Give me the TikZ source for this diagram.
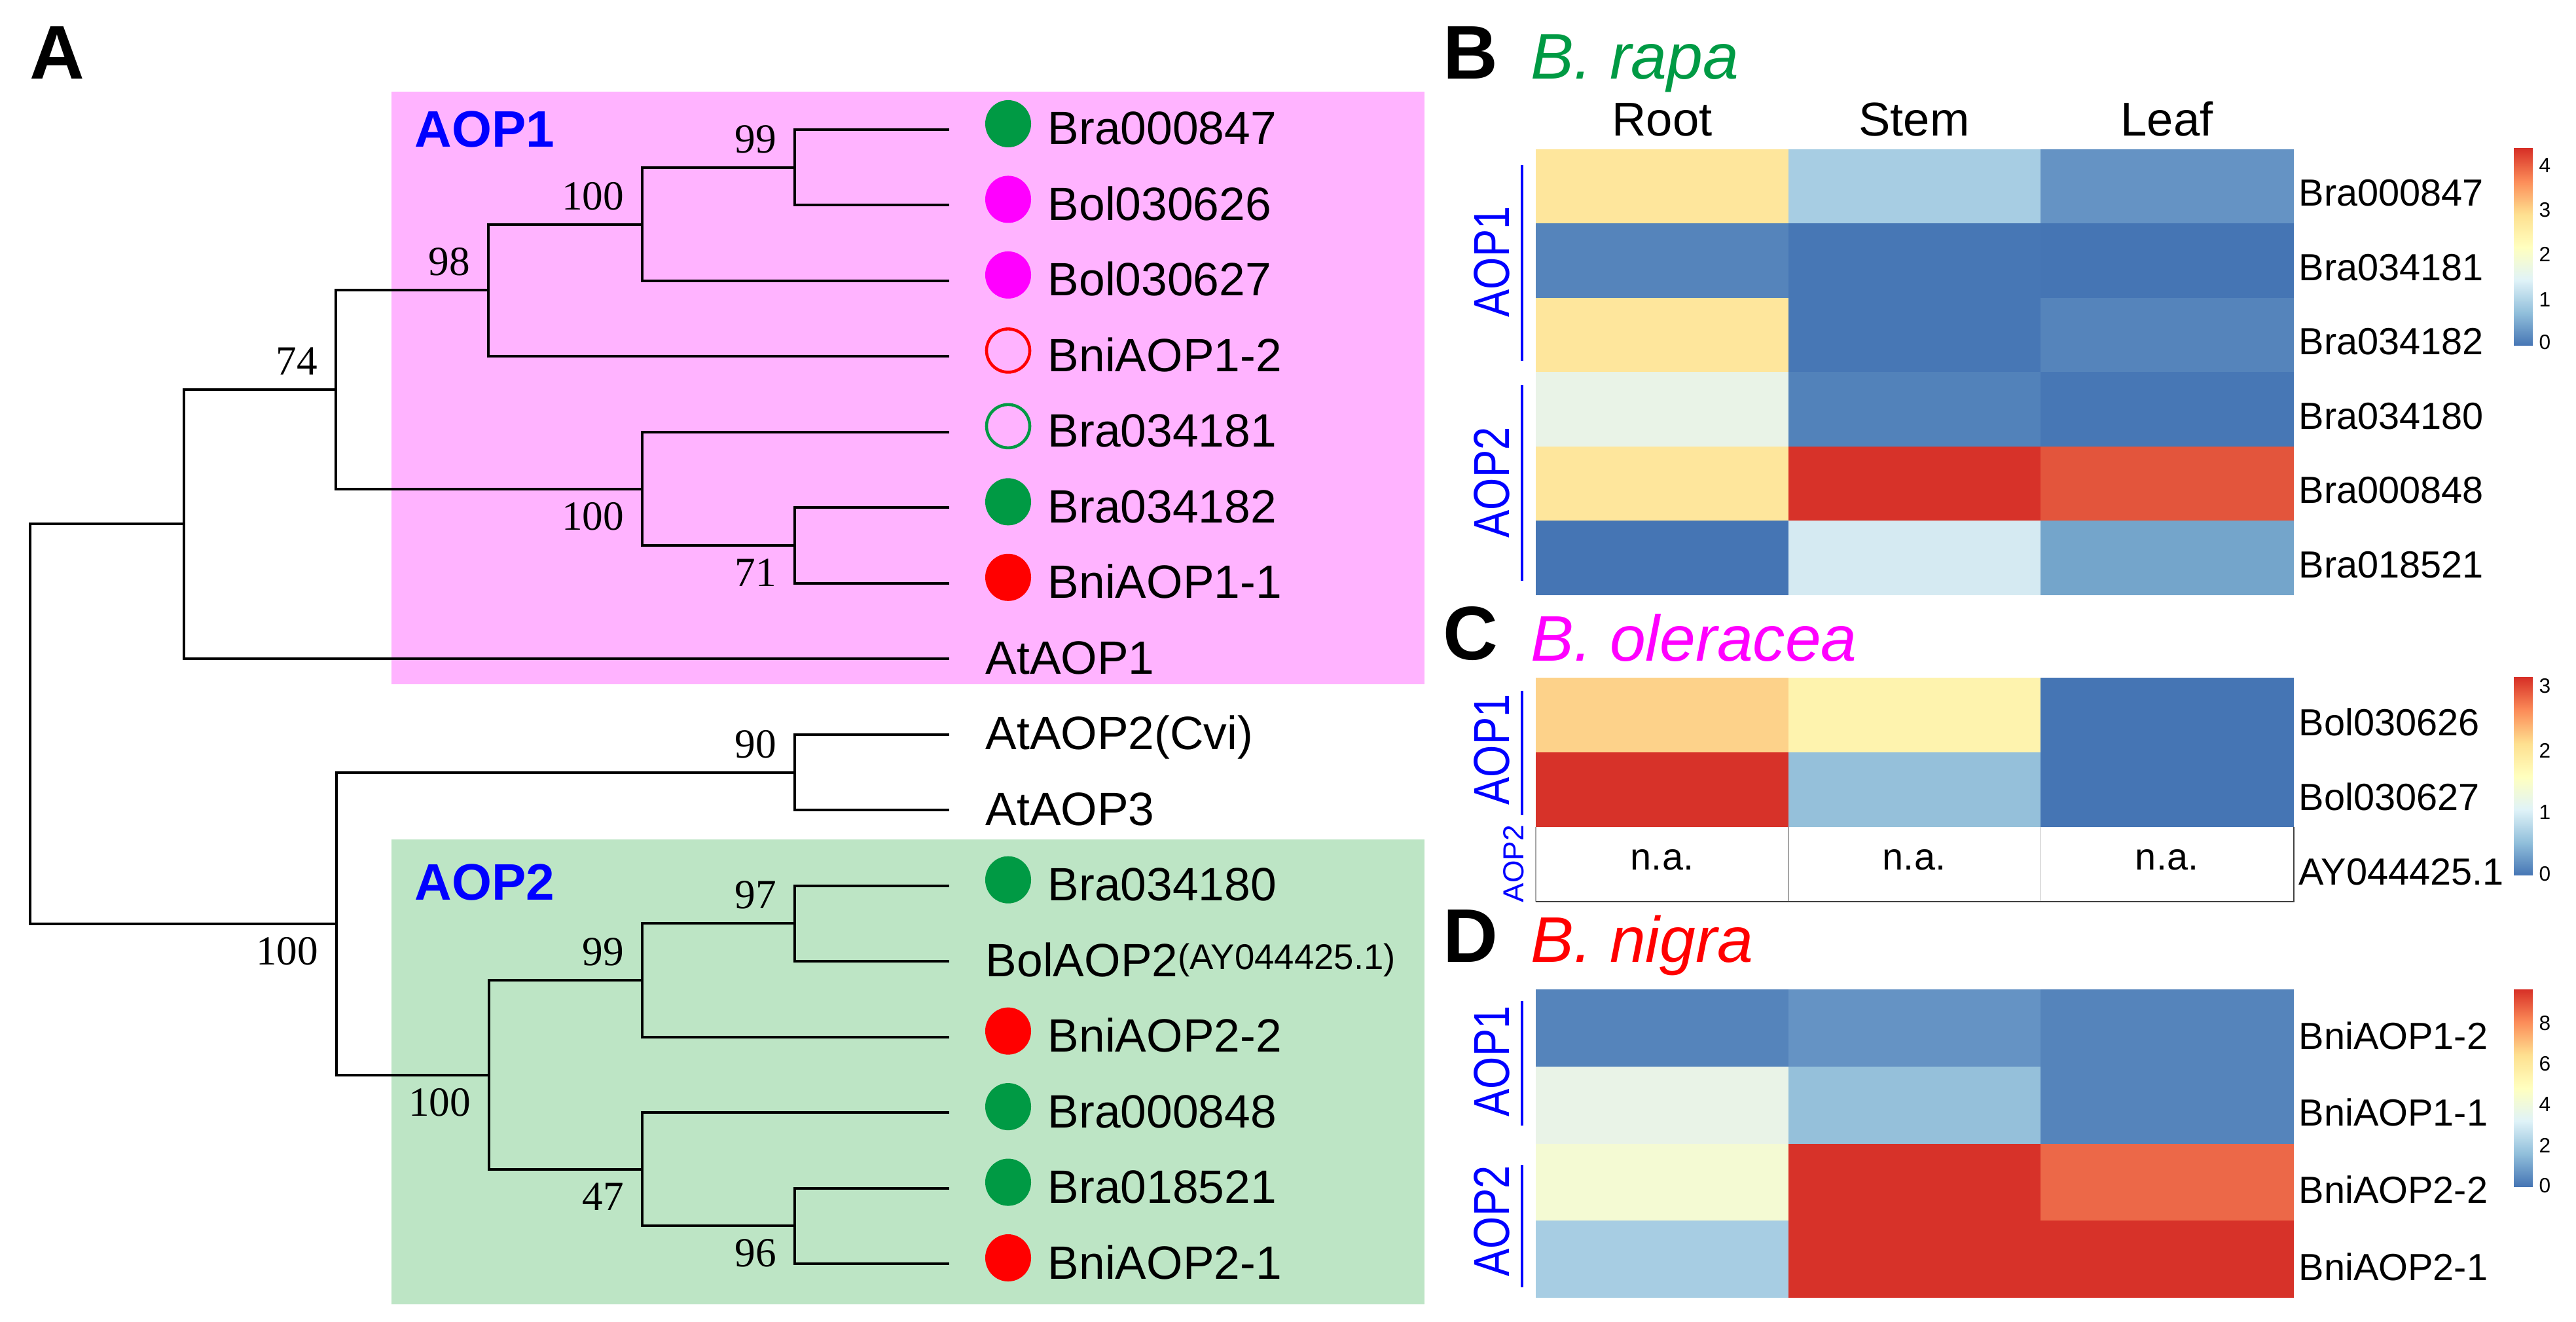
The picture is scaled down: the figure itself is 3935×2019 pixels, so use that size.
\documentclass[tikz,border=0pt]{standalone}
\usepackage{graphicx}
\usepackage{fontspec}
\setmainfont{Liberation Sans}
\newfontfamily\bootfont{Liberation Serif}
\usetikzlibrary{shapes.geometric}

% clade boxes and markers
\definecolor{aoppink}{HTML}{FFB3FF}
\definecolor{aopgreen}{HTML}{BDE5C5}
\definecolor{bragreen}{HTML}{009A44}
\definecolor{bolmag}{HTML}{FF00FF}
\definecolor{bnired}{HTML}{FF0000}
% heatmap cells
\definecolor{hyel}{HTML}{FEE69C}
\definecolor{hlbl}{HTML}{A7CDE3}
\definecolor{hmbl}{HTML}{6593C4}
\definecolor{hbla}{HTML}{5584BB}
\definecolor{hblb}{HTML}{4777B5}
\definecolor{hblc}{HTML}{4575B4}
\definecolor{hbld}{HTML}{5282BA}
\definecolor{hpale}{HTML}{E9F3E7}
\definecolor{hred}{HTML}{D73229}
\definecolor{hora}{HTML}{E3553C}
\definecolor{hvlb}{HTML}{D5EAF2}
\definecolor{hsky}{HTML}{74A5CB}
\definecolor{hlor}{HTML}{FDD28A}
\definecolor{hlye}{HTML}{FEF3AE}
\definecolor{hstb}{HTML}{95C0DA}
\definecolor{hpye}{HTML}{F4FAD3}
\definecolor{horb}{HTML}{EC6848}
% colour key
\definecolor{rb0}{HTML}{4575B4}
\definecolor{rb1}{HTML}{91BFDB}
\definecolor{rb2}{HTML}{E0F3F8}
\definecolor{rb3}{HTML}{FFFFBF}
\definecolor{rb4}{HTML}{FEE090}
\definecolor{rb5}{HTML}{FC8D59}
\definecolor{rb6}{HTML}{D73027}

\begin{document}
\begin{tikzpicture}[x=0.01cm,y=-0.01cm]
	\tikzset{branch/.style = {line width=1.15pt}}
	\tikzset{leaflab/.style = {anchor=base west, inner sep=0, font=\fontsize{20.3}{24}\selectfont}}
	\tikzset{gdot/.style = {ellipse, inner sep=0, minimum width=0.7cm, minimum height=0.72cm, fill=bragreen}}
	\tikzset{mdot/.style = {gdot, fill=bolmag}}
	\tikzset{rdot/.style = {gdot, fill=bnired}}
	\tikzset{rring/.style = {circle, inner sep=0, minimum size=0.66cm, draw=bnired, line width=1.3pt}}
	\tikzset{gring/.style = {rring, draw=bragreen}}
	\tikzset{bsup/.style = {anchor=base east, inner sep=0, font=\bootfont\fontsize{18}{20}\selectfont, xshift=-0.27cm, yshift=0.22cm}}
	\tikzset{bsdn/.style = {bsup, yshift=-0.84cm}}
	\tikzset{clade/.style = {anchor=base west, inner sep=0, text=blue, font=\fontsize{22.3}{26}\selectfont\bfseries}}
	\tikzset{panel/.style = {anchor=base west, inner sep=0, font=\fontsize{33}{36}\selectfont\bfseries}}
	\tikzset{spec/.style = {anchor=base west, inner sep=0, font=\fontsize{28}{32}\selectfont\itshape}}
	\tikzset{colhead/.style = {anchor=base, inner sep=0, font=\fontsize{20.6}{24}\selectfont}}
	\tikzset{rowlab/.style = {anchor=base west, inner sep=0, font=\fontsize{16.4}{19}\selectfont}}
	\tikzset{grp/.style = {blue, line width=1.4pt}}
	\tikzset{grplab/.style = {rotate=90, inner sep=0, text=blue, font=\fontsize{18}{20}\selectfont}}
	\tikzset{tick/.style = {anchor=west, inner sep=0, font=\fontsize{9}{10}\selectfont}}
	\useasboundingbox (0,0) rectangle (3935,2019);

	% A: tree
	\fill[aoppink] (598,140) rectangle (2176,1045);
	\fill[aopgreen] (598,1282) rectangle (2176,1992);
	\node[panel] (pa) at (45,121) {A};
	\node[clade] (c1) at (633,225) {AOP1};
	\node[clade] (c2) at (633,1374) {AOP2};

	\foreach \i in {1,...,16}
		\coordinate (l\i) at (1450,{198+115.47*(\i-1)});
	\coordinate (root) at (46,1105);
	\coordinate (a) at (281,800);
	\coordinate (n74) at (513,595);
	\coordinate (n98) at (746,443);
	\coordinate (n100a) at (981,343);
	\coordinate (n99a) at (1214,256);
	\coordinate (n100b) at (981,747);
	\coordinate (n71) at (1214,833);
	\coordinate (b) at (514,1411);
	\coordinate (n90) at (1214,1180);
	\coordinate (n100d) at (747,1642);
	\coordinate (n99b) at (981,1497);
	\coordinate (n97) at (1214,1410);
	\coordinate (n47) at (981,1786);
	\coordinate (n96) at (1214,1872);

	\foreach \p/\c in {root/a, root/b, a/n74, a/l8, n74/n98, n74/n100b, n98/n100a, n98/l4,
		n100a/n99a, n100a/l3, n99a/l1, n99a/l2, n100b/l5, n100b/n71, n71/l6, n71/l7,
		b/n90, b/n100d, n90/l9, n90/l10, n100d/n99b, n100d/n47, n99b/n97, n99b/l13,
		n97/l11, n97/l12, n47/l14, n47/n96, n96/l15, n96/l16}
		\draw[branch] (\p) |- (\c);

	\foreach \n/\v/\s in {n99a/99/bsup, n100a/100/bsup, n98/98/bsup, n74/74/bsup, n100b/100/bsdn,
		n71/71/bsdn, n90/90/bsup, b/100/bsdn, n99b/99/bsup, n97/97/bsup, n100d/100/bsdn,
		n47/47/bsdn, n96/96/bsdn}
		\node[\s] at (\n) {\v};

	\foreach \i/\m/\t in {1/gdot/Bra000847, 2/mdot/Bol030626, 3/mdot/Bol030627, 4/rring/BniAOP1-2,
		5/gring/Bra034181, 6/gdot/Bra034182, 7/rdot/BniAOP1-1, 11/gdot/Bra034180,
		13/rdot/BniAOP2-2, 14/gdot/Bra000848, 15/gdot/Bra018521, 16/rdot/BniAOP2-1}
	{
		\node[\m] (m\i) at ([shift={(90,-9)}]l\i) {};
		\node[leaflab] (t\i) at ([shift={(150,23)}]l\i) {\t};
	}
	\node[leaflab] (t8) at ([shift={(55,23)}]l8) {AtAOP1};
	\node[leaflab] (t9) at ([shift={(55,23)}]l9) {AtAOP2(Cvi)};
	\node[leaflab] (t10) at ([shift={(55,23)}]l10) {AtAOP3};
	\node[leaflab] (t12) at ([shift={(55,23)}]l12) {BolAOP2\raisebox{0.11cm}{\fontsize{15.5}{18}\selectfont(AY044425.1)}};

	% B: B. rapa
	\node[panel] (pb) at (2204,121) {B};
	\node[spec, text=bragreen] (sb) at (2338,121) {B. rapa};
	\foreach \t/\x in {Root/2539, Stem/2924, Leaf/3310}
		\node[colhead] at (\x,208) {\t};
	\foreach \ca/\cb/\cc [count=\r from 0] in {hyel/hlbl/hmbl, hbla/hblb/hblc, hyel/hblb/hbla,
		hpale/hbld/hblb, hyel/hred/hora, hblc/hvlb/hsky}
	{
		\fill[\ca] (2346,{228+113.5*\r}) rectangle +(386,113.6);
		\fill[\cb] (2732,{228+113.5*\r}) rectangle +(385,113.6);
		\fill[\cc] (3117,{228+113.5*\r}) rectangle +(387,113.6);
	}
	\foreach \t [count=\r from 0] in {Bra000847, Bra034181, Bra034182, Bra034180, Bra000848, Bra018521}
		\node[rowlab] at (3511,{228+113.5*\r+87}) {\t};
	\draw[grp] (2325,252) -- (2325,551);
	\draw[grp] (2325,588) -- (2325,887);
	\node[grplab] at (2279,400) {\scalebox{1}[1.22]{AOP1}};
	\node[grplab] at (2279,737) {\scalebox{1}[1.22]{AOP2}};

	% C: B. oleracea
	\node[panel] (pc) at (2204,1008) {C};
	\node[spec, text=bolmag] (sc) at (2338,1010) {B. oleracea};
	\foreach \ca/\cb/\cc [count=\r from 0] in {hlor/hlye/hblc, hred/hstb/hblc}
	{
		\fill[\ca] (2346,{1035+114*\r}) rectangle +(386,114.1);
		\fill[\cb] (2732,{1035+114*\r}) rectangle +(385,114.1);
		\fill[\cc] (3117,{1035+114*\r}) rectangle +(387,114.1);
	}
	\draw[gray!70, line width=0.5pt] (2346,1263) -- (2346,1377);
	\draw[gray!70, line width=0.5pt] (2732,1263) -- (2732,1377);
	\draw[gray!25, line width=0.5pt] (3117,1263) -- (3117,1377);
	\draw[black!75, line width=0.8pt] (2346,1377) -- (3504,1377) -- (3504,1263);
	\foreach \x in {2539,2924,3310}
		\node[rowlab, anchor=base] at (\x,1329) {n.a.};
	\foreach \t [count=\r from 0] in {Bol030626, Bol030627, AY044425.1}
		\node[rowlab] at (3511,{1035+114*\r+89}) {\t};
	\draw[grp] (2325,1055) -- (2325,1245);
	\node[grplab] at (2279,1145) {\scalebox{1}[1.22]{AOP1}};
	\node[grplab, font=\fontsize{12.6}{14}\selectfont] at (2312,1319) {AOP2};

	% D: B. nigra
	\node[panel] (pd) at (2204,1469) {D};
	\node[spec, text=bnired] (sd) at (2338,1469) {B. nigra};
	\foreach \ca/\cb/\cc [count=\r from 0] in {hbla/hmbl/hbla, hpale/hstb/hbla, hpye/hred/horb, hlbl/hred/hred}
	{
		\fill[\ca] (2346,{1511+117.75*\r}) rectangle +(386,117.85);
		\fill[\cb] (2732,{1511+117.75*\r}) rectangle +(385,117.85);
		\fill[\cc] (3117,{1511+117.75*\r}) rectangle +(387,117.85);
	}
	\foreach \t [count=\r from 0] in {BniAOP1-2, BniAOP1-1, BniAOP2-2, BniAOP2-1}
		\node[rowlab] at (3511,{1511+117.75*\r+91}) {\t};
	\draw[grp] (2325,1529) -- (2325,1719);
	\draw[grp] (2325,1779) -- (2325,1966);
	\node[grplab] at (2279,1621) {\scalebox{1}[1.22]{AOP1}};
	\node[grplab] at (2279,1865) {\scalebox{1}[1.22]{AOP2}};

	% colour keys
	\foreach \ya/\yb in {528/227, 1337/1035, 1812/1511}
		\foreach \lo/\hi [count=\k from 0] in {rb0/rb1, rb1/rb2, rb2/rb3, rb3/rb4, rb4/rb5, rb5/rb6}
			\shade[bottom color=\lo, top color=\hi] (3840,{\ya+(\yb-\ya)*\k/6}) rectangle (3869,{\ya+(\yb-\ya)*(\k+1)/6});
	\foreach \v/\y in {4/253, 3/321, 2/388, 1/458, 0/523, 3/1048, 2/1146, 1/1241, 0/1335,
		8/1563, 6/1625, 4/1687, 2/1749, 0/1811}
		\node[tick] at (3878,\y) {\v};
\end{tikzpicture}
\end{document}
